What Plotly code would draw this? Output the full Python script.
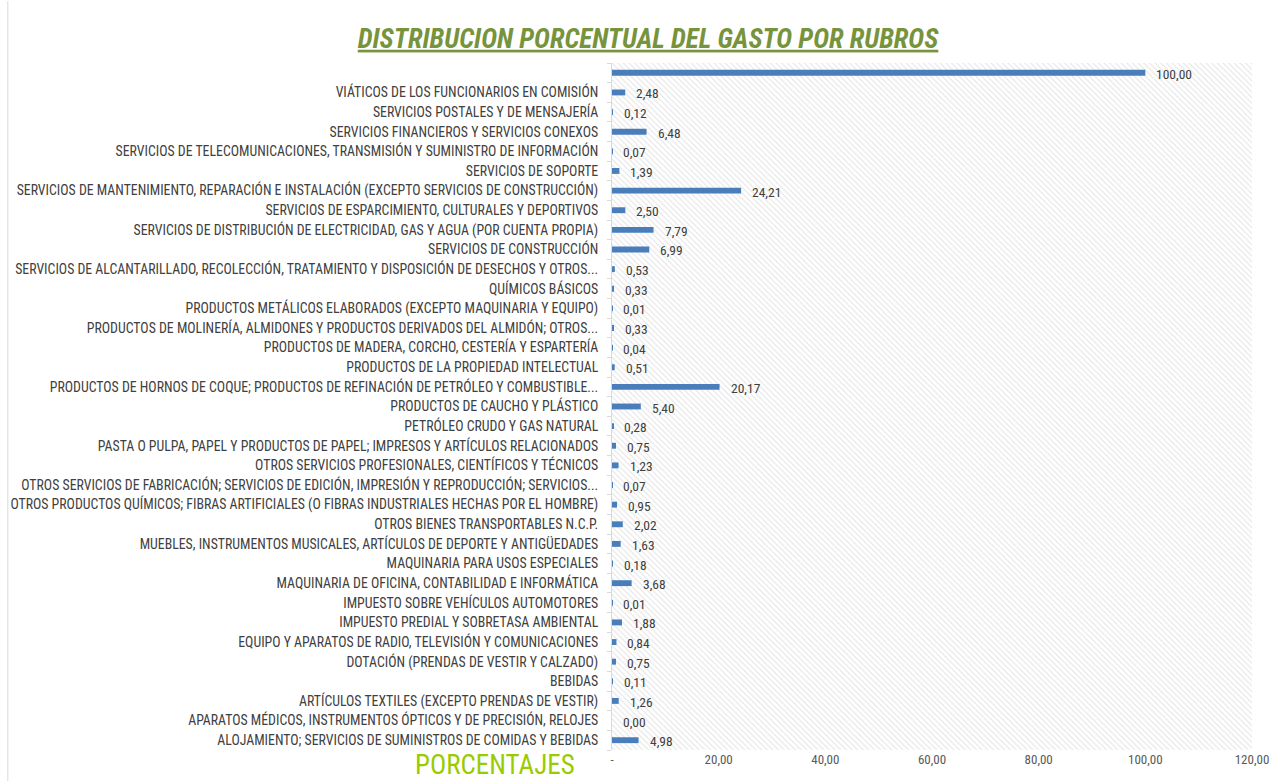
import plotly.graph_objects as go

categories = [
    "ALOJAMIENTO; SERVICIOS DE SUMINISTROS DE COMIDAS Y BEBIDAS",
    "APARATOS MÉDICOS, INSTRUMENTOS ÓPTICOS Y DE PRECISIÓN, RELOJES",
    "ARTÍCULOS TEXTILES (EXCEPTO PRENDAS DE VESTIR)",
    "BEBIDAS",
    "DOTACIÓN (PRENDAS DE VESTIR Y CALZADO)",
    "EQUIPO Y APARATOS DE RADIO, TELEVISIÓN Y COMUNICACIONES",
    "IMPUESTO PREDIAL Y SOBRETASA AMBIENTAL",
    "IMPUESTO SOBRE VEHÍCULOS AUTOMOTORES",
    "MAQUINARIA DE OFICINA, CONTABILIDAD E INFORMÁTICA",
    "MAQUINARIA PARA USOS ESPECIALES",
    "MUEBLES, INSTRUMENTOS MUSICALES, ARTÍCULOS DE DEPORTE Y ANTIGÜEDADES",
    "OTROS BIENES TRANSPORTABLES N.C.P.",
    "OTROS PRODUCTOS QUÍMICOS; FIBRAS ARTIFICIALES (O FIBRAS INDUSTRIALES HECHAS POR EL HOMBRE)",
    "OTROS SERVICIOS DE FABRICACIÓN; SERVICIOS DE EDICIÓN, IMPRESIÓN Y REPRODUCCIÓN; SERVICIOS...",
    "OTROS SERVICIOS PROFESIONALES, CIENTÍFICOS Y TÉCNICOS",
    "PASTA O PULPA, PAPEL Y PRODUCTOS DE PAPEL; IMPRESOS Y ARTÍCULOS RELACIONADOS",
    "PETRÓLEO CRUDO Y GAS NATURAL",
    "PRODUCTOS DE CAUCHO Y PLÁSTICO",
    "PRODUCTOS DE HORNOS DE COQUE; PRODUCTOS DE REFINACIÓN DE PETRÓLEO Y COMBUSTIBLE...",
    "PRODUCTOS DE LA PROPIEDAD INTELECTUAL",
    "PRODUCTOS DE MADERA, CORCHO, CESTERÍA Y ESPARTERÍA",
    "PRODUCTOS DE MOLINERÍA, ALMIDONES Y PRODUCTOS DERIVADOS DEL ALMIDÓN; OTROS...",
    "PRODUCTOS METÁLICOS ELABORADOS (EXCEPTO MAQUINARIA Y EQUIPO)",
    "QUÍMICOS BÁSICOS",
    "SERVICIOS DE ALCANTARILLADO, RECOLECCIÓN, TRATAMIENTO Y DISPOSICIÓN DE DESECHOS Y OTROS...",
    "SERVICIOS DE CONSTRUCCIÓN",
    "SERVICIOS DE DISTRIBUCIÓN DE ELECTRICIDAD, GAS Y AGUA (POR CUENTA PROPIA)",
    "SERVICIOS DE ESPARCIMIENTO, CULTURALES Y DEPORTIVOS",
    "SERVICIOS DE MANTENIMIENTO, REPARACIÓN E INSTALACIÓN (EXCEPTO SERVICIOS DE CONSTRUCCIÓN)",
    "SERVICIOS DE SOPORTE",
    "SERVICIOS DE TELECOMUNICACIONES, TRANSMISIÓN Y SUMINISTRO DE INFORMACIÓN",
    "SERVICIOS FINANCIEROS Y SERVICIOS CONEXOS",
    "SERVICIOS POSTALES Y DE MENSAJERÍA",
    "VIÁTICOS DE LOS FUNCIONARIOS EN COMISIÓN",
    "",
]

values = [
    4.98, 0.00, 1.26, 0.11, 0.75, 0.84, 1.88, 0.01, 3.68, 0.18,
    1.63, 2.02, 0.95, 0.07, 1.23, 0.75, 0.28, 5.40, 20.17, 0.51,
    0.04, 0.33, 0.01, 0.33, 0.53, 6.99, 7.79, 2.50, 24.21, 1.39,
    0.07, 6.48, 0.12, 2.48, 100.00,
]

x_tickvals = [0, 20, 40, 60, 80, 100, 120]
x_ticktext = ["-", "20,00", "40,00", "60,00", "80,00", "100,00", "120,00"]

n = len(categories)
positions = list(range(n))
label_texts = [f"{v:.2f}".replace(".", ",") for v in values]

FONT = "Liberation Sans Narrow, Roboto Condensed, Arial Narrow, sans-serif"

fig = go.Figure()

# hatched plot-area background
fig.add_trace(go.Bar(
    y=[(n - 1) / 2], x=[x_tickvals[-1]], orientation="h", width=[n],
    marker=dict(color="white", line=dict(width=0),
                pattern=dict(shape="\\", fgcolor="#c8c8c8", bgcolor="white",
                             size=4, solidity=0.28)),
    hoverinfo="skip", showlegend=False,
))

fig.add_trace(go.Bar(
    y=positions, x=values, orientation="h", width=0.3,
    marker=dict(color="#4a7ebb", line=dict(width=0)),
    showlegend=False,
))

value_annotations = [
    dict(x=v, y=p, xref="x", yref="y", text=t, showarrow=False,
         xanchor="left", yanchor="middle", xshift=9, yshift=-1,
         font=dict(family=FONT, size=13.5, color="#404040"))
    for v, p, t in zip(values, positions, label_texts)
]

fig.update_layout(
    width=1284, height=781,
    barmode="overlay",
    paper_bgcolor="white", plot_bgcolor="white",
    margin=dict(l=612, r=32, t=63, b=31, autoexpand=False),
    title=dict(
        text="<b><i><u>DISTRIBUCION PORCENTUAL DEL GASTO POR RUBROS</u></i></b>",
        x=0.5047, xanchor="center", y=0.951, yanchor="middle",
        font=dict(family=FONT, size=27, color="#77933c"),
    ),
    xaxis=dict(
        range=[0, 120], tickvals=x_tickvals, ticktext=x_ticktext,
        showgrid=False, zeroline=False, showline=False, ticks="",
        tickfont=dict(family=FONT, size=13, color="#595959"),
    ),
    yaxis=dict(
        range=[-0.5, n - 0.5], tickvals=positions, ticktext=categories,
        showgrid=False, zeroline=False, showline=True, linecolor="#d9d9d9",
        ticks="", automargin=False, ticklabelstandoff=10,
        minor=dict(tick0=-0.5, dtick=1, ticks="outside", ticklen=4, tickcolor="#d9d9d9"),
        tickfont=dict(family=FONT, size=13.8, color="#404040"),
    ),
    annotations=value_annotations + [dict(
        text="PORCENTAJES", xref="paper", yref="paper",
        x=-0.055, y=-0.0225, xanchor="right", yanchor="middle",
        showarrow=False, font=dict(family=FONT, size=27, color="#99cc00"),
    )],
    shapes=[dict(type="line", xref="paper", yref="paper",
                 x0=-0.944, x1=-0.944, y0=-0.05, y1=1.09,
                 line=dict(color="#d9d9d9", width=1))],
)

fig.write_html("out.html")
